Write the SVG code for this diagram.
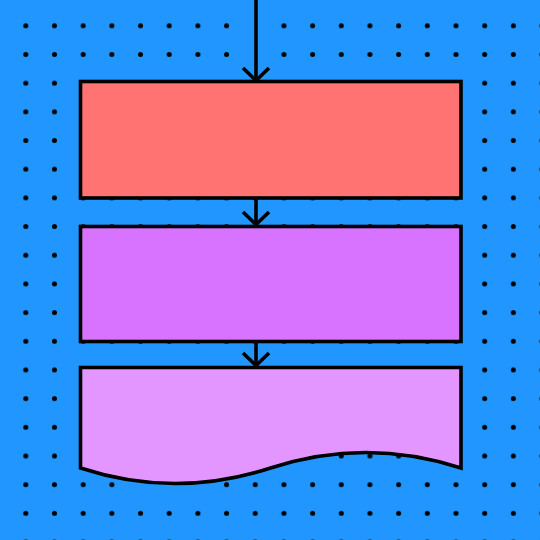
<svg xmlns="http://www.w3.org/2000/svg" width="540" height="540" viewBox="0 0 540 540">
  <style>
    .node { stroke: #000; stroke-width: 3.6; stroke-linejoin: miter; }
    .conn { fill: none; stroke: #000; stroke-width: 3.6; stroke-linecap: butt; stroke-linejoin: miter; }
  </style>
  <defs>
    <pattern id="dots" patternUnits="userSpaceOnUse" x="11.46" y="11.46" width="28.68" height="28.68">
      <circle cx="14.34" cy="14.34" r="2.5" fill="#000"/>
    </pattern>
    <mask id="dotmask">
      <rect x="0" y="0" width="540" height="540" fill="#fff"/>
      <rect x="249" y="0" width="13" height="70" fill="#000"/>
      <rect x="132" y="476" width="76" height="16" fill="#000"/>
    </mask>
  </defs>
  <rect id="background" x="0" y="0" width="540" height="540" fill="#2196FF"/>
  <rect id="dot-grid" x="0" y="0" width="540" height="540" fill="url(#dots)" mask="url(#dotmask)"/>
  <g id="connectors">
    <path class="conn" d="M256,0 V80"/>
    <path class="conn" d="M243,68 L256,80.5 L269,68"/>
    <path class="conn" d="M256,198 V225"/>
    <path class="conn" d="M243,212 L256,224.5 L269,212"/>
    <path class="conn" d="M256,341.5 V366"/>
    <path class="conn" d="M243,353 L256,365.5 L269,353"/>
  </g>
  <g id="node-1">
    <rect class="node" x="80.5" y="81.5" width="380.5" height="116.5" fill="#FF7373"/>
  </g>
  <g id="node-2">
    <rect class="node" x="80.5" y="226.5" width="380.5" height="115" fill="#D873FF"/>
  </g>
  <g id="node-3">
    <path class="node" d="M80.5,367.5 H461 V468 C397.5,447.3 334,447.3 270.5,468 C207,488.7 143.5,488.7 80.5,468 Z" fill="#E396FF"/>
  </g>
</svg>
